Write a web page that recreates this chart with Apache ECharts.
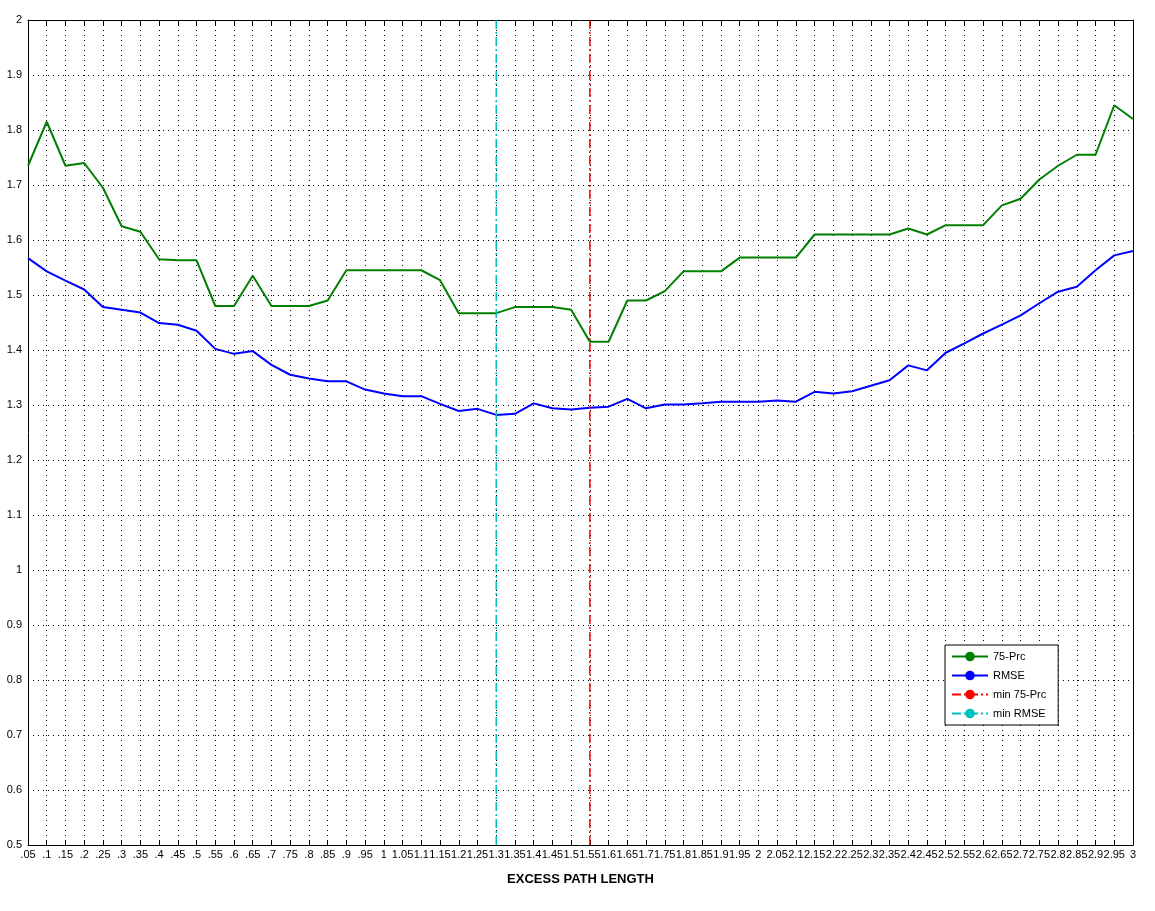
<!DOCTYPE html>
<html><head><meta charset="utf-8">
<script src="https://cdn.jsdelivr.net/npm/echarts@6/dist/echarts.min.js"></script>
<style>html,body{margin:0;padding:0;background:#fff}#c{width:1155px;height:911px}</style>
</head><body><div id="c"></div>
<script>
const categories = [".05",".1",".15",".2",".25",".3",".35",".4",".45",".5",".55",".6",".65",".7",".75",".8",".85",".9",".95","1",
"1.05","1.1","1.15","1.2","1.25","1.3","1.35","1.4","1.45","1.5","1.55","1.6","1.65","1.7","1.75","1.8","1.85","1.9","1.95","2",
"2.05","2.1","2.15","2.2","2.25","2.3","2.35","2.4","2.45","2.5","2.55","2.6","2.65","2.7","2.75","2.8","2.85","2.9","2.95","3"];
const prc75 = [1.735,1.815,1.735,1.74,1.695,1.625,1.615,1.565,1.563,1.563,1.48,1.48,1.535,1.48,1.48,1.48,1.49,1.545,1.545,1.545,
1.545,1.545,1.527,1.467,1.467,1.467,1.478,1.478,1.478,1.473,1.415,1.415,1.49,1.49,1.507,1.543,1.543,1.543,1.568,1.568,
1.568,1.568,1.61,1.61,1.61,1.61,1.61,1.621,1.61,1.627,1.627,1.627,1.663,1.675,1.71,1.735,1.755,1.755,1.845,1.82];
const rmse = [1.567,1.543,1.526,1.51,1.478,1.473,1.468,1.449,1.446,1.435,1.402,1.393,1.398,1.373,1.355,1.348,1.343,1.343,1.328,1.321,
1.316,1.316,1.302,1.289,1.293,1.282,1.284,1.303,1.294,1.292,1.295,1.297,1.311,1.294,1.301,1.301,1.303,1.306,1.306,1.306,
1.308,1.306,1.324,1.321,1.325,1.335,1.345,1.372,1.363,1.395,1.412,1.43,1.446,1.463,1.485,1.506,1.515,1.545,1.572,1.58];
const minPrcX = "1.55";
const minRmseX = "1.3";
const yRange = [0.5, 2];
const legendNames = ['75-Prc','RMSE','min 75-Prc','min RMSE'];

const font = "Liberation Sans, Arial, sans-serif";
const dashDot = [9,3,2,3];
const chart = echarts.init(document.getElementById('c'));
const gridDotted = {show:true, lineStyle:{color:'#000', type:[1,4], width:1}};
chart.setOption({
  animation:false,
  backgroundColor:'#fff',
  grid:{left:28,right:22,top:20,bottom:66},
  xAxis:[{type:'category',data:categories,boundaryGap:false,
    axisLine:{lineStyle:{color:'#000'}},axisTick:{inside:true,length:5,interval:0,lineStyle:{color:'#000'}},
    axisLabel:{interval:0,color:'#000',fontSize:11,fontFamily:font,margin:4},
    splitLine:Object.assign({interval:0},gridDotted),
    name:'EXCESS PATH LENGTH',nameLocation:'middle',nameGap:28,
    nameTextStyle:{fontWeight:'bold',fontSize:13,color:'#000',fontFamily:font}},
   {type:'category',data:categories,boundaryGap:false,position:'top',
    axisLine:{lineStyle:{color:'#000'}},axisTick:{inside:true,length:5,interval:0,lineStyle:{color:'#000'}},axisLabel:{show:false}}],
  yAxis:[{type:'value',min:yRange[0],max:yRange[1],interval:0.1,
    axisLine:{show:true,lineStyle:{color:'#000'}},axisTick:{inside:true,length:5,lineStyle:{color:'#000'}},
    axisLabel:{color:'#000',fontSize:11,fontFamily:font,margin:6,formatter:v=>String(Math.round(v*10)/10)},
    splitLine:gridDotted},
   {type:'value',min:yRange[0],max:yRange[1],interval:0.1,position:'right',
    axisLine:{show:true,lineStyle:{color:'#000'}},axisTick:{inside:true,length:5,lineStyle:{color:'#000'}},
    axisLabel:{show:false},splitLine:{show:false}}],
  legend:{show:true,left:945,top:645,orient:'vertical',itemWidth:36,itemHeight:12,itemGap:8,
    backgroundColor:'#fff',borderColor:'#000',borderWidth:1,padding:[6,12,6,6],
    textStyle:{fontSize:11,color:'#000',fontFamily:font},
    data:legendNames},
  series:[
    {name:legendNames[0],type:'line',data:prc75,symbol:'none',lineStyle:{color:'#007f00',width:2},itemStyle:{color:'#007f00'}},
    {name:legendNames[1],type:'line',data:rmse,symbol:'none',lineStyle:{color:'#0000ff',width:2},itemStyle:{color:'#0000ff'}},
    {name:legendNames[2],type:'line',data:[[minPrcX,yRange[0]],[minPrcX,yRange[1]]],symbol:'none',
      lineStyle:{color:'#ff0000',width:1.5,type:dashDot},itemStyle:{color:'#ff0000'}},
    {name:legendNames[3],type:'line',data:[[minRmseX,yRange[0]],[minRmseX,yRange[1]]],symbol:'none',
      lineStyle:{color:'#00bfbf',width:1.5,type:dashDot},itemStyle:{color:'#00bfbf'}}
  ]
});
</script></body></html>
